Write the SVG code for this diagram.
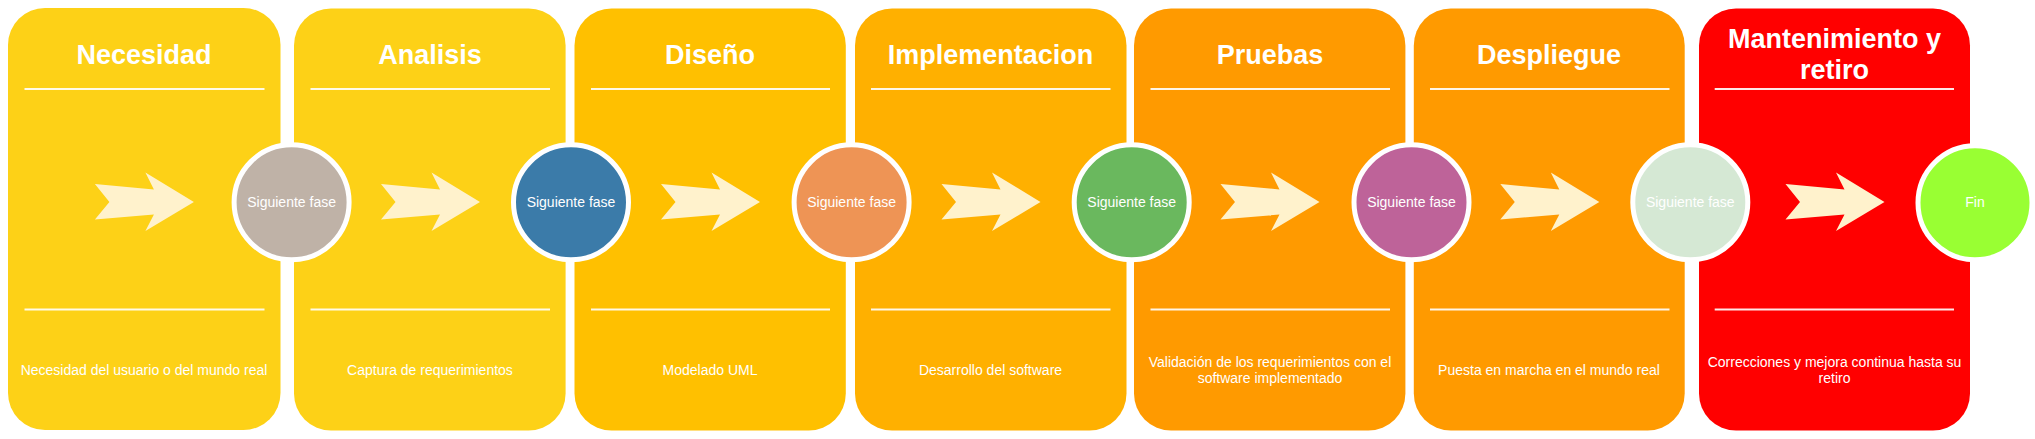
<svg xmlns="http://www.w3.org/2000/svg" xmlns:xlink="http://www.w3.org/1999/xlink" width="2035" height="439" viewBox="0 0 2035 439">
<style>
.box{stroke:none}
.sep{stroke:#ffffff;stroke-width:2;stroke-opacity:0.9}
.title{font-family:"Liberation Sans",Arial,sans-serif;font-weight:bold;font-size:27px;fill:#ffffff;text-anchor:middle}
.desc{font-family:"Liberation Sans",Arial,sans-serif;font-size:14px;fill:#ffffff;text-anchor:middle}
.node{stroke:#ffffff;stroke-width:5}
.nlabel{font-family:"Liberation Sans",Arial,sans-serif;font-size:14px;fill:#ffffff;text-anchor:middle}
.arrow{fill:#FFF2CC}
</style>
<defs>
<path id="arr" d="M86.5,184 L145.5,189.5 L137,172.5 L185.5,202 L137,231 L145.5,214.5 L86.5,219.5 L101,202 Z"/>
</defs>
<rect width="2035" height="439" fill="#ffffff"/>

<g id="phase-necesidad">
<rect class="box" x="8" y="8" width="272.5" height="422" rx="37" fill="#FDD117"/>
<text class="title" x="144" y="64">Necesidad</text>
<line class="sep" x1="24.5" y1="89" x2="264.5" y2="89"/>
<line class="sep" x1="24.5" y1="309.5" x2="264.5" y2="309.5"/>
<use href="#arr" x="8.4" class="arrow"/>
<text class="desc" x="144" y="375">Necesidad del usuario o del mundo real</text>
</g>

<g id="phase-analisis">
<rect class="box" x="294" y="8.5" width="271.6" height="422" rx="37" fill="#FDD117"/>
<text class="title" x="430" y="64">Analisis</text>
<line class="sep" x1="310.5" y1="89" x2="550" y2="89"/>
<line class="sep" x1="310.5" y1="309.5" x2="550" y2="309.5"/>
<use href="#arr" x="294.5" class="arrow"/>
<text class="desc" x="430" y="375">Captura de requerimientos</text>
</g>

<g id="phase-diseno">
<rect class="box" x="574.5" y="8.5" width="271.3" height="422" rx="37" fill="#FFC000"/>
<text class="title" x="710" y="64">Diseño</text>
<line class="sep" x1="591" y1="89" x2="830" y2="89"/>
<line class="sep" x1="591" y1="309.5" x2="830" y2="309.5"/>
<use href="#arr" x="574.5" class="arrow"/>
<text class="desc" x="710" y="375">Modelado UML</text>
</g>

<g id="phase-implementacion">
<rect class="box" x="855" y="8.5" width="271.5" height="422" rx="37" fill="#FFB000"/>
<text class="title" x="990.5" y="64">Implementacion</text>
<line class="sep" x1="871" y1="89" x2="1110.5" y2="89"/>
<line class="sep" x1="871" y1="309.5" x2="1110.5" y2="309.5"/>
<use href="#arr" x="855" class="arrow"/>
<text class="desc" x="990.5" y="375">Desarrollo del software</text>
</g>

<g id="phase-pruebas">
<rect class="box" x="1134" y="8.5" width="271.4" height="422" rx="37" fill="#FF9A00"/>
<text class="title" x="1270" y="64">Pruebas</text>
<line class="sep" x1="1150.5" y1="89" x2="1390" y2="89"/>
<line class="sep" x1="1150.5" y1="309.5" x2="1390" y2="309.5"/>
<use href="#arr" x="1134" class="arrow"/>
<text class="desc" x="1270" y="367">Validación de los requerimientos con el</text>
<text class="desc" x="1270" y="383">software implementado</text>
</g>

<g id="phase-despliegue">
<rect class="box" x="1413.8" y="8.5" width="270.9" height="422" rx="37" fill="#FF9A00"/>
<text class="title" x="1549" y="64">Despliegue</text>
<line class="sep" x1="1430" y1="89" x2="1669.5" y2="89"/>
<line class="sep" x1="1430" y1="309.5" x2="1669.5" y2="309.5"/>
<use href="#arr" x="1413.8" class="arrow"/>
<text class="desc" x="1549" y="375">Puesta en marcha en el mundo real</text>
</g>

<g id="phase-mantenimiento">
<rect class="box" x="1699" y="8.5" width="271" height="422" rx="37" fill="#FF0000"/>
<text class="title" x="1834.5" y="47.7">Mantenimiento y</text>
<text class="title" x="1834.5" y="79.3">retiro</text>
<line class="sep" x1="1714.7" y1="89" x2="1954" y2="89"/>
<line class="sep" x1="1714.7" y1="309.5" x2="1954" y2="309.5"/>
<use href="#arr" x="1699" class="arrow"/>
<text class="desc" x="1834.5" y="367">Correcciones y mejora continua hasta su</text>
<text class="desc" x="1834.5" y="383">retiro</text>
</g>

<g id="connectors">
<g id="node-1"><circle class="node" cx="291.6" cy="202.3" r="57.5" fill="#BFB2A7"/><text class="nlabel" x="291.6" y="207.3">Siguiente fase</text></g>
<g id="node-2"><circle class="node" cx="571" cy="202.3" r="57.5" fill="#3B7BA9"/><text class="nlabel" x="571" y="207.3">Siguiente fase</text></g>
<g id="node-3"><circle class="node" cx="851.6" cy="202.3" r="57.5" fill="#EE9455"/><text class="nlabel" x="851.6" y="207.3">Siguiente fase</text></g>
<g id="node-4"><circle class="node" cx="1131.7" cy="202.3" r="57.5" fill="#6AB85E"/><text class="nlabel" x="1131.7" y="207.3">Siguiente fase</text></g>
<g id="node-5"><circle class="node" cx="1411.5" cy="202.3" r="57.5" fill="#BE6399"/><text class="nlabel" x="1411.5" y="207.3">Siguiente fase</text></g>
<g id="node-6"><circle class="node" cx="1690.3" cy="202.3" r="57.5" fill="#D5E8D4"/><text class="nlabel" x="1690.3" y="207.3">Siguiente fase</text></g>
<g id="node-fin"><circle class="node" cx="1975" cy="202.8" r="57" fill="#99FF33"/><text class="nlabel" x="1975" y="207.3">Fin</text></g>
</g>
</svg>
